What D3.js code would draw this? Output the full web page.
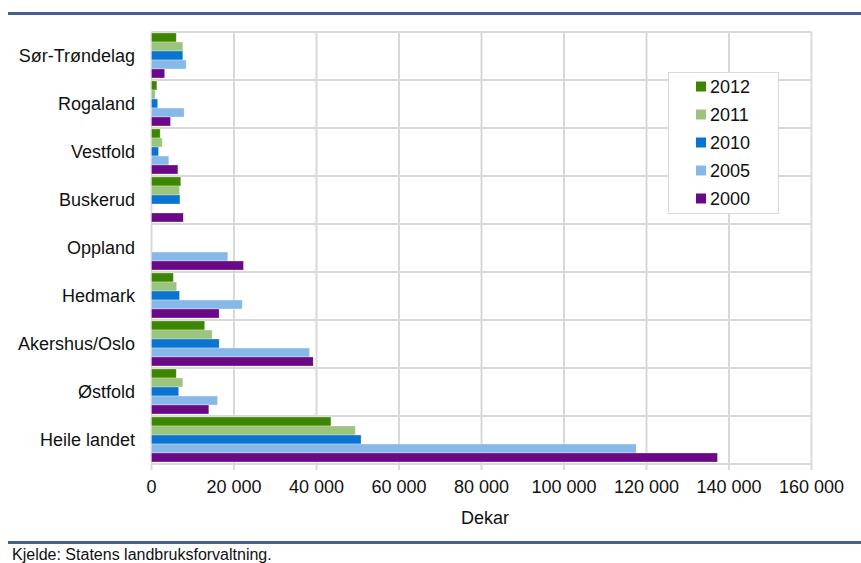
<!DOCTYPE html>
<html>
<head>
<meta charset="utf-8">
<script src="https://cdn.jsdelivr.net/npm/d3@7"></script>
<style>
  body { margin: 0; background: #fff; }
  text { font-family: "Liberation Sans", Arial, sans-serif; fill: #111; }
</style>
</head>
<body>
<svg id="chart" width="861" height="563"></svg>
<script>
// categories top to bottom
const regions = ["Sør-Trøndelag", "Rogaland", "Vestfold", "Buskerud", "Oppland",
  "Hedmark", "Akershus/Oslo", "Østfold", "Heile landet"];
const years = ["2012", "2011", "2010", "2005", "2000"];
const colors = ["#3f8600", "#9dc47e", "#0a74d0", "#86b9e7", "#6a0885"];

// values in dekar, one array per year, same order as regions
const v2012 = [6000, 1300, 2100, 7100, 0, 5300, 12900, 6000, 43500];
const v2011 = [7600, 900, 2600, 6800, 0, 6100, 14700, 7600, 49400];
const v2010 = [7600, 1500, 1700, 6900, 0, 6800, 16400, 6600, 50800];
const v2005 = [8400, 7900, 4200, 0, 18500, 22000, 38300, 16000, 117500];
const v2000 = [3200, 4600, 6400, 7700, 22300, 16400, 39200, 13900, 137200];
const series = [v2012, v2011, v2010, v2005, v2000];

const xTicks = [0, 20000, 40000, 60000, 80000, 100000, 120000, 140000, 160000];

const svg = d3.select("#chart");
const plotLeft = 151.5, plotRight = 811.5, plotTop = 32, plotBottom = 464;

const x = d3.scaleLinear().domain([0, 160000]).range([plotLeft, plotRight]);
const y = d3.scaleBand().domain(regions).range([plotTop, plotBottom]);
const yInner = d3.scaleBand().domain(years).range([1, 46]);

// header and footer rules
svg.append("rect").attr("x", 8).attr("y", 12).attr("width", 853).attr("height", 3).attr("fill", "#465f8c");
svg.append("rect").attr("x", 8).attr("y", 541).attr("width", 853).attr("height", 3).attr("fill", "#465f8c");

// grid
const grid = svg.append("g").attr("stroke", "#d9d9d9").attr("stroke-width", 2);
grid.selectAll("line.v")
  .data(xTicks)
  .join("line")
    .attr("class", "v")
    .attr("x1", d => x(d)).attr("x2", d => x(d))
    .attr("y1", plotTop).attr("y2", plotBottom + 6);
grid.selectAll("line.h")
  .data(regions.map(r => y(r)).concat([plotBottom]))
  .join("line")
    .attr("class", "h")
    .attr("x1", plotLeft).attr("x2", plotRight)
    .attr("y1", d => d).attr("y2", d => d);

// bars
years.forEach((yr, i) => {
  svg.append("g")
    .selectAll("rect")
    .data(regions.map((r, j) => ({region: r, value: series[i][j]})).filter(d => d.value > 0))
    .join("rect")
      .attr("x", x(0))
      .attr("y", d => y(d.region) + yInner(yr))
      .attr("width", d => x(d.value) - x(0))
      .attr("height", yInner.bandwidth())
      .attr("fill", colors[i])
      .attr("stroke", "#ffffff")
      .attr("stroke-opacity", 0.5)
      .attr("stroke-width", 0.6);
});

// category labels
svg.append("g")
  .selectAll("text")
  .data(regions)
  .join("text")
    .attr("x", 135)
    .attr("y", d => y(d) + 23.5)
    .attr("dy", "0.35em")
    .attr("text-anchor", "end")
    .style("font-size", "18px")
    .text(d => d);

// x tick labels
svg.append("g")
  .selectAll("text")
  .data(xTicks)
  .join("text")
    .attr("x", d => x(d))
    .attr("y", 487)
    .attr("dy", "0.35em")
    .attr("text-anchor", "middle")
    .style("font-size", "18px")
    .text(d => d3.format(",")(d).replace(/,/g, " "));

svg.append("text")
  .attr("x", 485).attr("y", 518)
  .attr("dy", "0.35em")
  .attr("text-anchor", "middle")
  .style("font-size", "18px")
  .text("Dekar");

// legend
const lg = svg.append("g");
lg.append("rect").attr("x", 668.5).attr("y", 72.5).attr("width", 110).attr("height", 141)
  .attr("fill", "#fff").attr("stroke", "#d9d9d9");
years.forEach((yr, i) => {
  lg.append("rect").attr("x", 696).attr("y", 81.5 + i * 28).attr("width", 10).attr("height", 10).attr("fill", colors[i]);
  lg.append("text").attr("x", 710).attr("y", 86.5 + i * 28).attr("dy", "0.35em")
    .style("font-size", "18px").text(yr);
});

svg.append("text")
  .attr("x", 12).attr("y", 560)
  .style("font-size", "16px")
  .text("Kjelde: Statens landbruksforvaltning.");
</script>
</body>
</html>
